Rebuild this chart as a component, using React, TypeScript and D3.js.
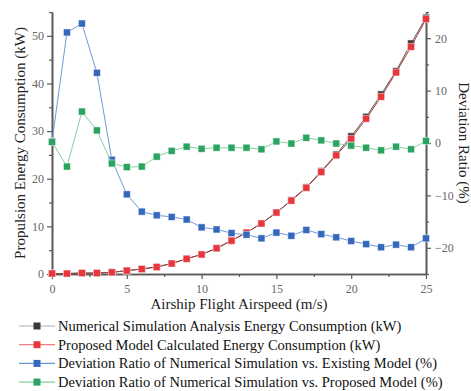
import { useEffect, useRef } from "react";
import * as d3 from "d3";

const speeds = d3.range(0, 26);

const simEnergy = [0.1, 0.1, 0.2, 0.2, 0.35, 0.7, 1.05, 1.5, 2.2, 3.2, 4.1, 5.4, 7.0, 8.7, 10.6, 12.9, 15.5, 18.2, 21.6, 25.1, 28.9, 33.0, 37.7, 42.6, 48.4, 53.8];
const proposedEnergy = [0.1, 0.1, 0.2, 0.2, 0.35, 0.7, 1.05, 1.45, 2.2, 3.2, 4.1, 5.4, 7.0, 8.7, 10.6, 12.9, 15.4, 18.1, 21.4, 24.9, 28.4, 32.6, 37.2, 42.3, 47.7, 53.5];
const devExisting = [0.3, 21.1, 22.8, 13.4, -3.2, -9.8, -13.1, -13.8, -14.1, -14.6, -16.1, -16.5, -17.2, -17.5, -18.2, -17.1, -17.7, -16.6, -17.4, -18.0, -18.7, -19.3, -19.9, -19.4, -19.9, -18.2];
const devProposed = [0.2, -4.5, 6.0, 2.4, -3.9, -4.6, -4.5, -2.6, -1.5, -0.7, -1.1, -0.9, -0.9, -0.9, -1.2, 0.3, -0.1, 1.0, 0.5, -0.1, -0.5, -0.9, -1.4, -0.7, -1.2, 0.4];

const legendLabels = [
  "Numerical Simulation Analysis Energy Consumption (kW)",
  "Proposed Model Calculated Energy Consumption (kW)",
  "Deviation Ratio of Numerical Simulation vs. Existing Model (%)",
  "Deviation Ratio of Numerical Simulation vs. Proposed Model (%)",
];

const W = 471;
const H = 391;
const M = { top: 12, right: 45, bottom: 117, left: 52 };
const FONT = "Liberation Serif, DejaVu Serif, Times New Roman, serif";

const series = [
  { values: simEnergy, axis: "left", fill: "#3a3a3a", line: "#555555", legendLine: "#b0b0b0" },
  { values: proposedEnergy, axis: "left", fill: "#e8363c", line: "#a83a3a", legendLine: "#f08080" },
  { values: devExisting, axis: "right", fill: "#3567bd", line: "#6e98d8", legendLine: "#6e98d8" },
  { values: devProposed, axis: "right", fill: "#2aa45f", line: "#86cfa2", legendLine: "#86cfa2" },
];

export default function App() {
  const svgRef = useRef<SVGSVGElement>(null);

  useEffect(() => {
    const innerW = W - M.left - M.right;
    const innerH = H - M.top - M.bottom;

    const svg = d3.select(svgRef.current);
    svg.selectAll("*").remove();

    const x = d3.scaleLinear().domain([0, 25]).range([M.left, M.left + innerW]);
    const yL = d3.scaleLinear().domain([0, 55]).range([M.top + innerH, M.top]);
    const yR = d3.scaleLinear().domain([-25, 25]).range([M.top + innerH, M.top]);

    const axisColor = "#5a5a5a";
    const styleAxis = (g: any) => {
      g.attr("font-family", null).attr("font-size", null);
      g.select(".domain").attr("stroke", axisColor).attr("stroke-width", 1.6);
      g.selectAll("line").attr("stroke", axisColor).attr("stroke-width", 1.2);
      g.selectAll("text").attr("fill", "#666").style("font-size", "12px").style("font-family", FONT);
    };

    // minor ticks first
    svg.append("g")
      .attr("transform", `translate(0,${M.top + innerH})`)
      .call(d3.axisBottom(x).tickValues(d3.range(2.5, 25, 5)).tickSize(3).tickFormat(() => "").tickSizeOuter(0))
      .call(styleAxis);
    svg.append("g")
      .attr("transform", `translate(${M.left},0)`)
      .call(d3.axisLeft(yL).tickValues(d3.range(5, 56, 10)).tickSize(3).tickFormat(() => "").tickSizeOuter(0))
      .call(styleAxis);
    svg.append("g")
      .attr("transform", `translate(${M.left + innerW},0)`)
      .call(d3.axisRight(yR).tickValues([-25, -15, -5, 5, 15, 25]).tickSize(3).tickFormat(() => "").tickSizeOuter(0))
      .call(styleAxis);

    // major ticks
    svg.append("g")
      .attr("transform", `translate(0,${M.top + innerH})`)
      .call(d3.axisBottom(x).tickValues(d3.range(0, 26, 5)).tickSize(5).tickPadding(5).tickSizeOuter(0))
      .call(styleAxis);
    svg.append("g")
      .attr("transform", `translate(${M.left},0)`)
      .call(d3.axisLeft(yL).tickValues(d3.range(0, 51, 10)).tickSize(5).tickPadding(3).tickSizeOuter(0))
      .call(styleAxis);
    svg.append("g")
      .attr("transform", `translate(${M.left + innerW},0)`)
      .call(d3.axisRight(yR).tickValues([-20, -10, 0, 10, 20]).tickSize(5).tickPadding(4).tickSizeOuter(0)
        .tickFormat((d: any) => (d < 0 ? "\u2212" + Math.abs(d) : String(d))))
      .call(styleAxis);

    const title = (sel: any) =>
      sel.attr("text-anchor", "middle")
        .style("font-family", FONT)
        .style("font-size", "15px")
        .attr("fill", "#222");

    // axis titles
    svg.append("text")
      .attr("transform", `translate(25,${M.top + innerH / 2}) rotate(-90)`)
      .call(title)
      .text("Propulsion Energy Consumption (kW)");
    svg.append("text")
      .attr("transform", `translate(459,${M.top + innerH / 2}) rotate(90)`)
      .call(title)
      .text("Deviation Ratio (%)");
    svg.append("text")
      .attr("x", M.left + innerW / 2)
      .attr("y", 309)
      .call(title)
      .text("Airship Flight Airspeed (m/s)");

    // series
    const S = 7;
    series.forEach(s => {
      const y = s.axis === "left" ? yL : yR;
      const line = d3.line<number>().x((_, i) => x(speeds[i])).y(d => y(d));
      svg.append("path")
        .attr("d", line(s.values))
        .attr("fill", "none")
        .attr("stroke", s.line)
        .attr("stroke-width", 1);
      svg.append("g")
        .selectAll("rect")
        .data(s.values)
        .join("rect")
        .attr("x", (_, i) => x(speeds[i]) - S / 2)
        .attr("y", d => y(d) - S / 2)
        .attr("width", S)
        .attr("height", S)
        .attr("fill", s.fill)
        .attr("stroke", "rgba(255,255,255,0.6)")
        .attr("stroke-width", 0.8);
    });

    // legend
    const legend = svg.append("g");
    series.forEach((s, i) => {
      const cy = 326 + i * 18.7;
      legend.append("line")
        .attr("x1", 19).attr("x2", 55)
        .attr("y1", cy).attr("y2", cy)
        .attr("stroke", s.legendLine).attr("stroke-width", 1.2);
      legend.append("rect")
        .attr("x", 37 - 3.5).attr("y", cy - 3.5)
        .attr("width", 7).attr("height", 7)
        .attr("fill", s.fill);
      legend.append("text")
        .attr("x", 58).attr("y", cy + 5)
        .style("font-family", FONT)
        .style("font-size", "14.5px")
        .attr("fill", "#111")
        .text(legendLabels[i]);
    });
  }, []);

  return (
    <div style={{ position: "absolute", left: 0, top: 0, width: W, height: H, background: "#fff" }}>
      <svg ref={svgRef} width={W} height={H} style={{ display: "block" }} />
    </div>
  );
}
